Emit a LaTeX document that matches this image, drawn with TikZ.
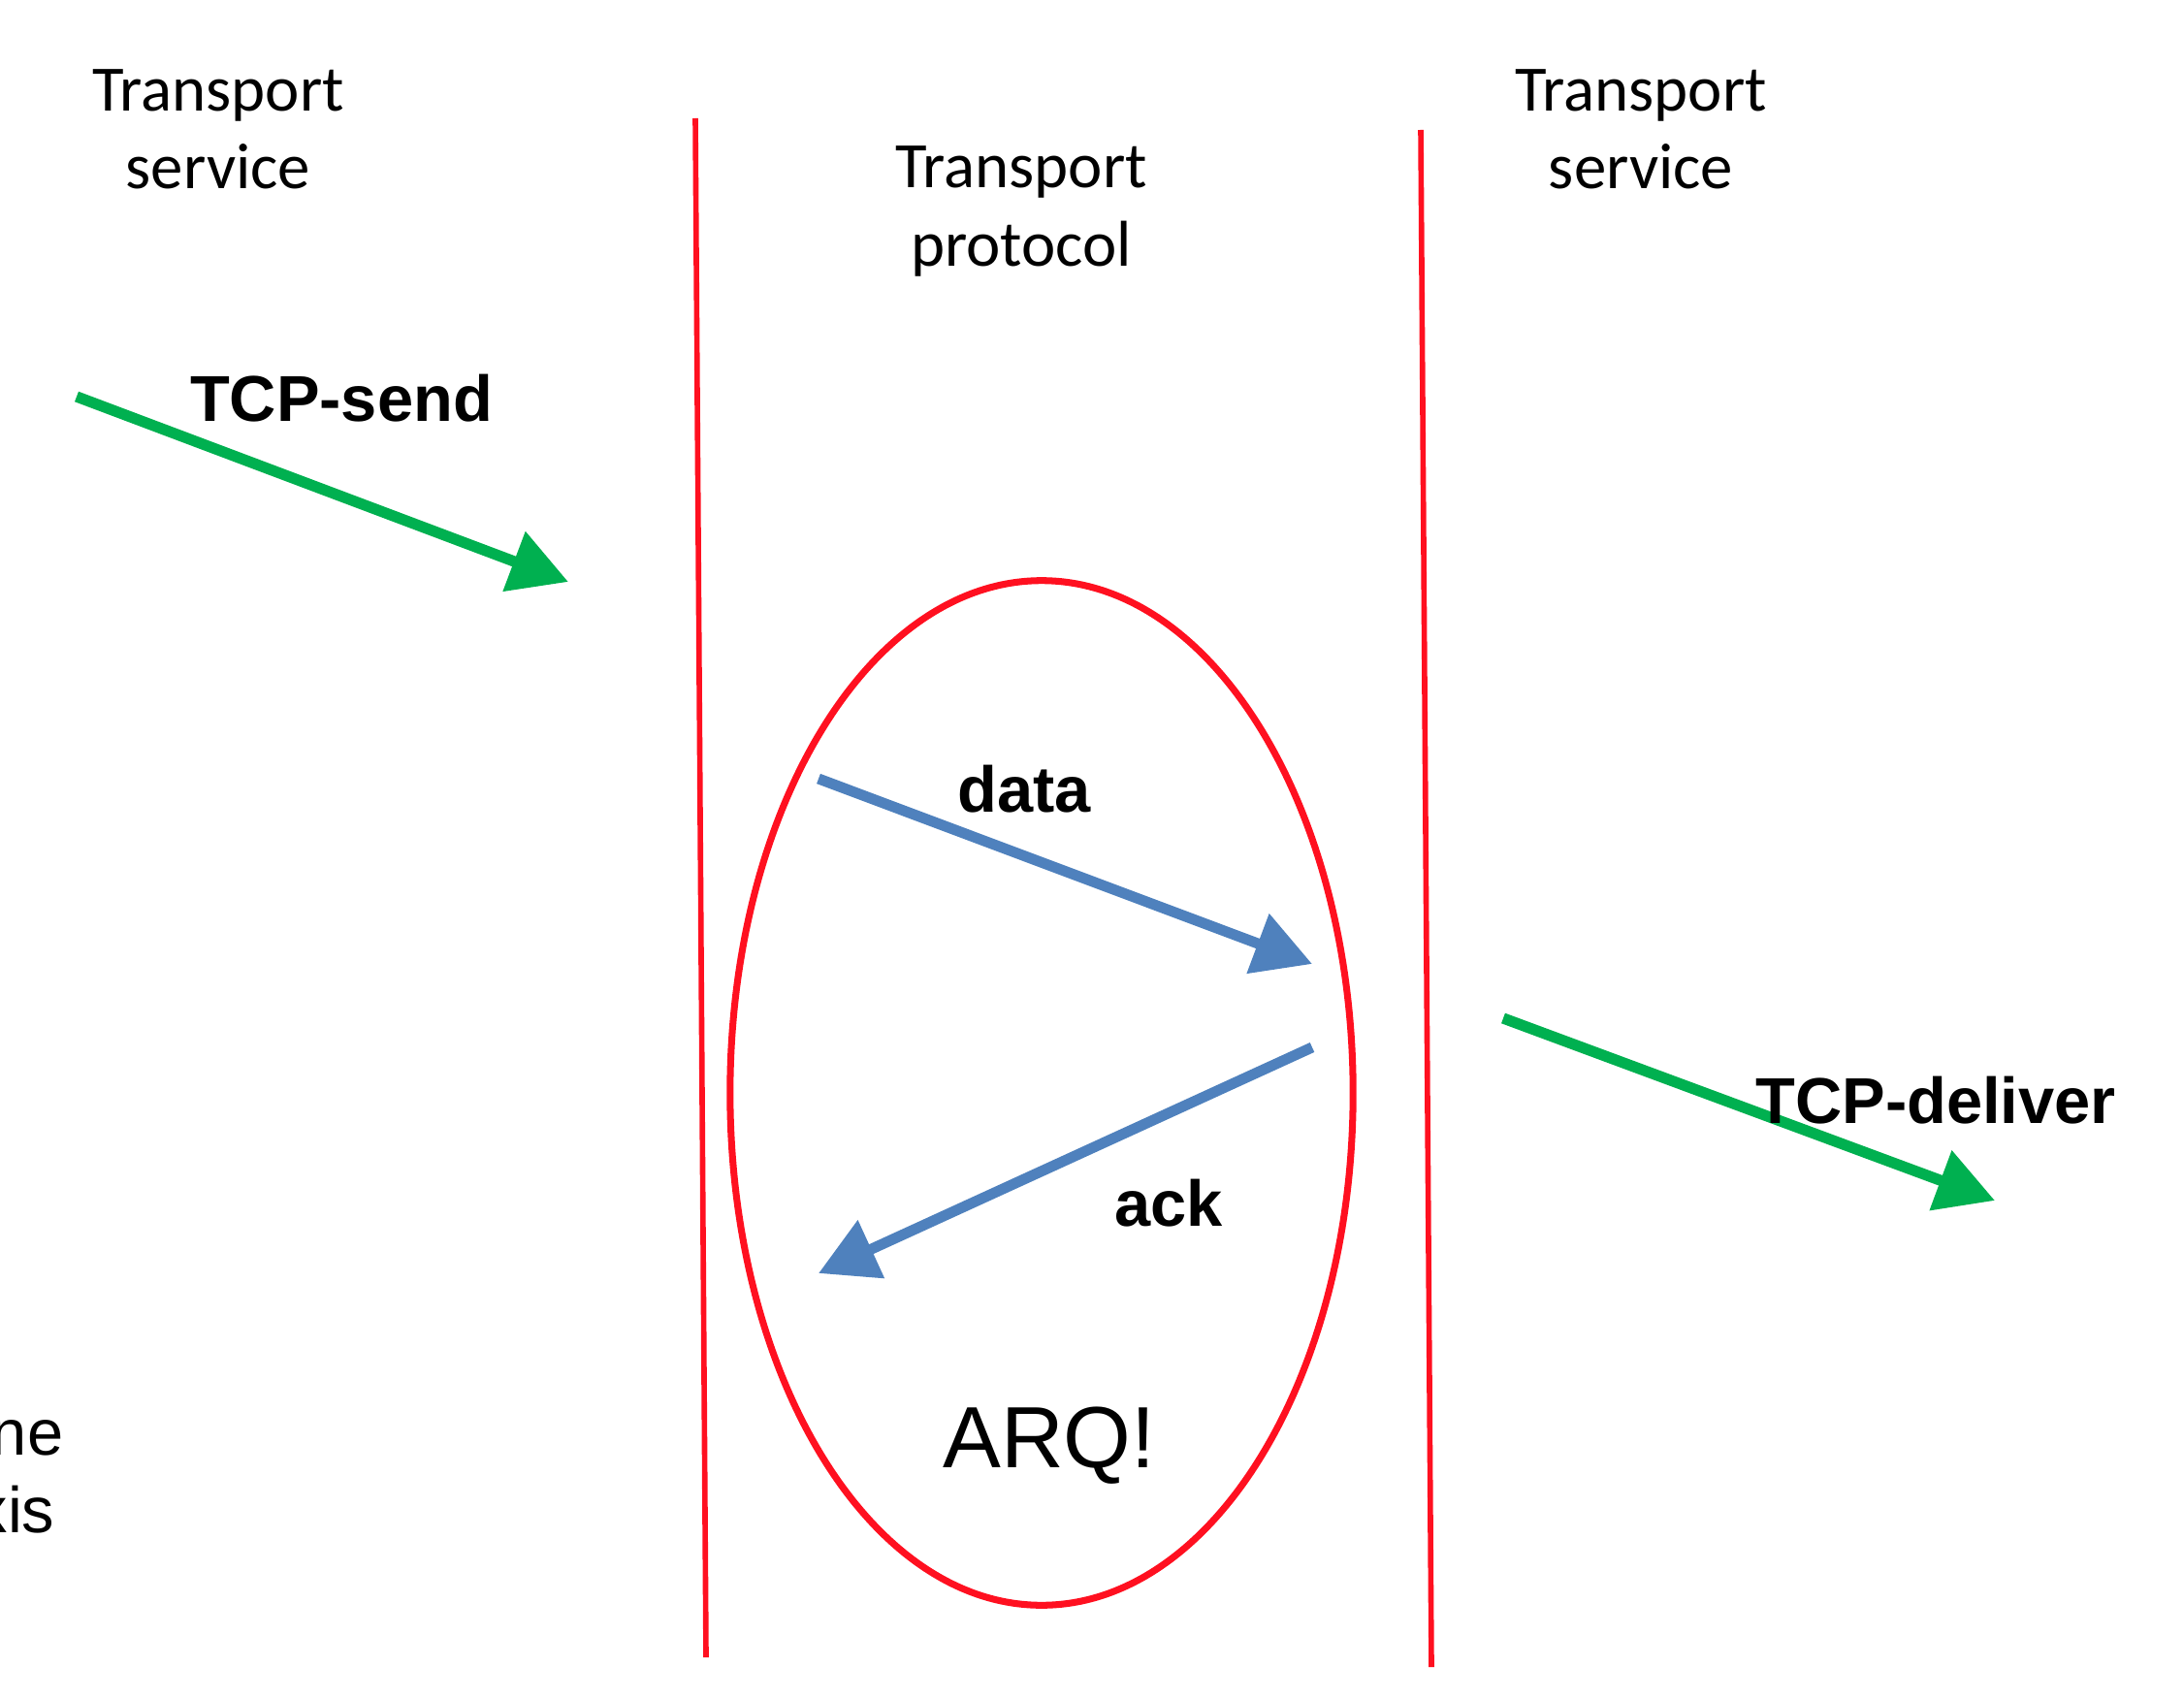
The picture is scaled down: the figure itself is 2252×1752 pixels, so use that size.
\documentclass[tikz,border=0pt]{standalone}
\usepackage{fontspec}
\setmainfont{Carlito}
\newfontfamily\arial{Liberation Sans}
\usepackage{tikz}
\usetikzlibrary{arrows.meta,shapes.geometric}
\definecolor{bordered}{RGB}{255,16,32}
\definecolor{tcpgreen}{RGB}{0,176,80}
\definecolor{arqblue}{RGB}{79,129,189}

\begin{document}
\begin{tikzpicture}[x=0.01cm,y=-0.01cm,
		svc/.style={align=center,inner sep=0pt,font=\fontsize{19}{22.8}\selectfont},
		lbl/.style={inner sep=0pt,anchor=base,font=\arial\bfseries\fontsize{19}{23}\selectfont},
		tcparrow/.style={draw=tcpgreen,line width=3.2pt,-{Triangle[length=17pt,width=18pt]}},
		arqarrow/.style={draw=arqblue,line width=3.1pt,-{Triangle[length=17pt,width=18pt]}}]
		\clip (0,0) rectangle (2252,1752);

		% layer borders
		\coordinate (bl1) at (717,122);
		\coordinate (bl2) at (728,1709);
		\coordinate (br1) at (1465,134);
		\coordinate (br2) at (1476,1719);
		\draw[bordered,line width=1.6pt] (bl1) -- (bl2);
		\draw[bordered,line width=1.6pt] (br1) -- (br2);

		\node[svc] (svcleft) at (225,133) {Transport\\service};
		\node[svc] (proto) at (1053,218) {Transport\\protocol};
		\node[svc] (svcright) at (1692,133) {Transport\\service};

		\node[draw=bordered,line width=2pt,ellipse,minimum width=6.42cm,minimum height=10.56cm,inner sep=0pt] (arq) at (1074,1127) {};
		\node[inner sep=0pt,anchor=base,font=\arial\fontsize{25.5}{30}\selectfont] (arqtext) at (1082,1513) {ARQ!};

		% sender side
		\coordinate (sendfrom) at (79,409);
		\coordinate (sendto) at (586,600);
		\draw[tcparrow] (sendfrom) -- (sendto);
		\node[lbl] (send) at (352,434) {TCP-send};

		% inside the protocol
		\coordinate (datafrom) at (844,803);
		\coordinate (datato) at (1353,994);
		\draw[arqarrow] (datafrom) -- (datato);
		\node[lbl] (data) at (1056,837) {data};

		\coordinate (ackfrom) at (1353,1080);
		\coordinate (ackto) at (844,1313);
		\draw[arqarrow] (ackfrom) -- (ackto);
		\node[lbl] (ack) at (1205,1264) {ack};

		% receiver side
		\coordinate (delfrom) at (1550,1050);
		\coordinate (delto) at (2057,1238);
		\draw[tcparrow] (delfrom) -- (delto);
		\node[lbl] (deliver) at (1996,1158) {TCP-deliver};

		\node[inner sep=0pt,anchor=base east,font=\arial\fontsize{19}{23}\selectfont] (ne) at (66,1500) {ne};
		\node[inner sep=0pt,anchor=base east,font=\arial\fontsize{19}{23}\selectfont] (xis) at (57,1580) {xis};
	\end{tikzpicture}
\end{document}
